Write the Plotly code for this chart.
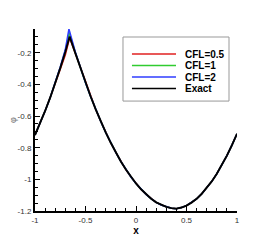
import plotly.graph_objects as go

# ---- data ----
x_exact = [-1.00, -0.95, -0.90, -0.85, -0.80, -0.75, -0.70, -0.657, -0.60, -0.55, -0.50,
           -0.45, -0.40, -0.35, -0.30, -0.25, -0.20, -0.15, -0.10, -0.05, 0.00,
           0.05, 0.10, 0.15, 0.20, 0.25, 0.30, 0.35, 0.40, 0.45, 0.50,
           0.55, 0.60, 0.65, 0.70, 0.75, 0.80, 0.85, 0.90, 0.95, 1.00]
y_exact = [-0.720, -0.647, -0.568, -0.484, -0.393, -0.297, -0.195, -0.098, -0.204, -0.299, -0.390,
           -0.475, -0.556, -0.632, -0.703, -0.769, -0.830, -0.887, -0.938, -0.985, -1.026,
           -1.063, -1.095, -1.122, -1.145, -1.162, -1.174, -1.182, -1.185, -1.178, -1.166,
           -1.147, -1.123, -1.092, -1.056, -1.013, -0.965, -0.911, -0.850, -0.784, -0.712]

x_cfl05_peak = [-0.75, -0.70, -0.657, -0.60]
y_cfl05_peak = [-0.310, -0.215, -0.105, -0.206]
x_cfl1_peak = [-0.75, -0.70, -0.660, -0.60]
y_cfl1_peak = [-0.294, -0.188, -0.073, -0.200]
x_cfl2_peak = [-0.75, -0.70, -0.664, -0.60]
y_cfl2_peak = [-0.290, -0.180, -0.050, -0.196]

names = ["CFL=0.5", "CFL=1", "CFL=2", "Exact"]
colors = ["#e02020", "#30cc30", "#2f3cff", "#000000"]

x_tickvals = [-1, -0.5, 0, 0.5, 1]
x_ticktext = ["-1", "-0.5", "0", "0.5", "1"]
y_tickvals = [-1.2, -1.0, -0.8, -0.6, -0.4, -0.2]
y_ticktext = ["-1.2", "-1", "-0.8", "-0.6", "-0.4", "-0.2"]


def merge(xs, ys, xp, yp):
    lo, hi = min(xp), max(xp)
    pts = [(a, b) for a, b in zip(xs, ys) if a < lo or a > hi] + list(zip(xp, yp))
    pts.sort()
    return [p[0] for p in pts], [p[1] for p in pts]


series = [merge(x_exact, y_exact, x_cfl05_peak, y_cfl05_peak),
          merge(x_exact, y_exact, x_cfl1_peak, y_cfl1_peak),
          merge(x_exact, y_exact, x_cfl2_peak, y_cfl2_peak),
          (x_exact, y_exact)]

fig = go.Figure()
for (xs, ys), name, col in zip(series, names, colors):
    fig.add_trace(go.Scatter(x=xs, y=ys, mode="lines", name=name, showlegend=False,
                             line=dict(color=col, width=1.9 if name == "Exact" else 1.5)))

# manual Tecplot-like legend
fig.add_shape(type="rect", xref="paper", yref="paper", x0=0.4356, x1=0.9604, y0=0.604, y1=0.956,
              line=dict(color="#999999", width=1), fillcolor="white", layer="above")
row_y = [0.8626, 0.799, 0.736, 0.673]
for name, col, yy in zip(names, colors, row_y):
    fig.add_shape(type="line", xref="paper", yref="paper", x0=0.480, x1=0.698, y0=yy, y1=yy,
                  line=dict(color=col, width=1.5), layer="above")
    fig.add_annotation(xref="paper", yref="paper", x=0.733, y=yy, text="<b>%s</b>" % name,
                       showarrow=False, xanchor="left", yanchor="middle",
                       font=dict(family="Liberation Sans, Arial", size=10, color="black"))

axis_common = dict(showline=True, linecolor="black", linewidth=2, ticks="inside",
                   tickcolor="black", ticklen=5, tickwidth=1, showgrid=False, zeroline=False,
                   automargin=False,
                   tickfont=dict(family="Liberation Sans, Arial", size=8, color="#333333"))

# page body adds an 8px offset, so the figure is sized to fit the window
fig.update_layout(
    width=262, height=232,
    margin=dict(l=27, r=33, t=21, b=29),
    paper_bgcolor="white", plot_bgcolor="white",
    xaxis=dict(range=[-1, 1], tickvals=x_tickvals, ticktext=x_ticktext,
               minor=dict(dtick=0.1, ticks="inside", ticklen=3, tickcolor="black"),
               title=dict(text="<b>x</b>", standoff=2,
                          font=dict(family="Liberation Sans, Arial", size=10, color="black")),
               **axis_common),
    yaxis=dict(range=[-1.2, -0.05], tickvals=y_tickvals, ticktext=y_ticktext,
               minor=dict(dtick=0.05, tick0=0, ticks="inside", ticklen=3, tickcolor="black"),
               title=dict(text="φ", standoff=0,
                          font=dict(family="Liberation Sans, Arial", size=9, color="#777777")),
               **axis_common),
)

fig.write_html("out.html")
